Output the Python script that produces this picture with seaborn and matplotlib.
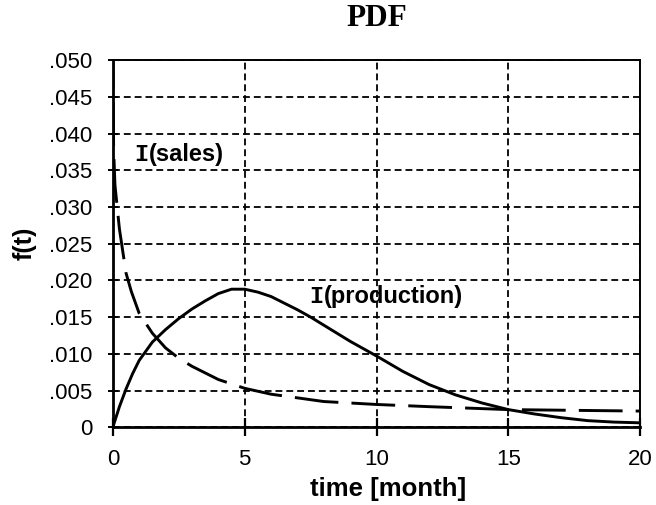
import numpy as np
import pandas as pd
import matplotlib
matplotlib.use("Agg")
import matplotlib.pyplot as plt
import seaborn as sns

# ---- data ----
t_production = [0, 0.25, 0.5, 0.75, 1.0, 1.5, 2.0, 2.5, 3.0, 3.5, 4.0, 4.5, 5.0,
                5.5, 6.0, 6.5, 7.0, 7.5, 8.0, 8.5, 9.0, 10.0, 11.0, 12.0, 13.0,
                14.0, 15.0, 16.0, 17.0, 18.0, 19.0, 20.0]
f_production = [0.0, 0.0028, 0.0052, 0.0073, 0.0091, 0.0116, 0.0133, 0.0148, 0.0161,
                0.0172, 0.0182, 0.0188, 0.0188, 0.0184, 0.0178, 0.0169, 0.0160,
                0.0150, 0.0139, 0.0128, 0.0117, 0.0097, 0.0076, 0.0058, 0.0044,
                0.0033, 0.0024, 0.0018, 0.0013, 0.0009, 0.0007, 0.0006]

t_sales = [0, 0.03, 0.08, 0.25, 0.5, 0.7, 1.0, 1.5, 2.0, 2.5, 3.0, 4.0, 5.0, 6.0,
           7.0, 8.0, 10.0, 12.0, 15.0, 17.5, 20.0]
f_sales = [0.052, 0.038, 0.033, 0.027, 0.021, 0.0185, 0.0155, 0.0128, 0.0108, 0.0094,
           0.0083, 0.0065, 0.0053, 0.0045, 0.0040, 0.0035, 0.0031, 0.0028, 0.0024,
           0.0023, 0.0022]

x_ticks = [0, 5, 10, 15, 20]
y_ticks = [0, 0.005, 0.010, 0.015, 0.020, 0.025, 0.030, 0.035, 0.040, 0.045, 0.050]
y_tick_labels = ["0", ".005", ".010", ".015", ".020", ".025", ".030", ".035",
                 ".040", ".045", ".050"]

title = "PDF"
x_label = "time [month]"
y_label = "f(t)"

sns.set_style("white")
plt.rcParams["font.family"] = ["Liberation Sans", "DejaVu Sans"]
plt.rcParams["text.color"] = "black"
plt.rcParams["axes.labelcolor"] = "black"
plt.rcParams["xtick.color"] = "black"
plt.rcParams["ytick.color"] = "black"

fig = plt.figure(figsize=(6.56, 5.05), dpi=100)
ax = fig.add_axes([0.172, 0.154, 0.804, 0.727])

df_p = pd.DataFrame({"t": t_production, "f": f_production})
df_s = pd.DataFrame({"t": t_sales, "f": f_sales})

sns.lineplot(data=df_p, x="t", y="f", ax=ax, color="black", linewidth=2.1,
             estimator=None, sort=False)
sns.lineplot(data=df_s, x="t", y="f", ax=ax, color="black", linewidth=2.1,
             estimator=None, sort=False)
ax.lines[-1].set_dashes((15, 4.5))

ax.set_xlim(0, 20)
ax.set_ylim(0, 0.050)
ax.set_xticks(x_ticks)
ax.set_xticklabels([str(v) for v in x_ticks])
ax.set_yticks(y_ticks)
ax.set_yticklabels(y_tick_labels)

ax.grid(True, color="black", linestyle=(0, (3.8, 2.2)), linewidth=1.3)
ax.set_axisbelow(True)

for s in ["left", "bottom"]:
    ax.spines[s].set_linewidth(2.0)
for s in ["top", "right"]:
    ax.spines[s].set_linewidth(1.4)
for s in ax.spines.values():
    s.set_color("black")
    s.set_visible(True)

ax.tick_params(axis="x", direction="inout", length=13, width=1.6, labelsize=16,
               pad=9, colors="black", bottom=True)
ax.tick_params(axis="y", direction="inout", length=7, width=1.4, labelsize=16,
               pad=11, colors="black", left=True)

ax.set_xlabel(x_label, fontsize=18.5, fontweight="bold")
ax.set_ylabel(y_label, fontsize=18, fontweight="bold")
ax.xaxis.label.set_va("center")
ax.yaxis.label.set_va("center")
ax.xaxis.set_label_coords(0.522, -0.169)
ax.yaxis.set_label_coords(-0.167, 0.501)

fig.text(0.5745, 0.963, title, fontsize=22.5, fontweight="bold",
         family=["Liberation Serif", "DejaVu Serif"], ha="center", va="center")

# curve labels: "I" in a typewriter face, rest in bold sans
t1 = ax.text(0.83, 0.0371, "I", fontsize=17, fontweight="bold",
             family=["Liberation Mono", "DejaVu Sans Mono"], va="center")
ax.annotate("(sales)", xy=(1, 0.5), xycoords=t1, va="center", ha="left",
            fontsize=17, fontweight="bold")
t2 = ax.text(7.45, 0.0178, "I", fontsize=17, fontweight="bold",
             family=["Liberation Mono", "DejaVu Sans Mono"], va="center")
ax.annotate("(production)", xy=(1, 0.5), xycoords=t2, va="center", ha="left",
            fontsize=17, fontweight="bold")

fig.savefig("out.png", dpi=100)
